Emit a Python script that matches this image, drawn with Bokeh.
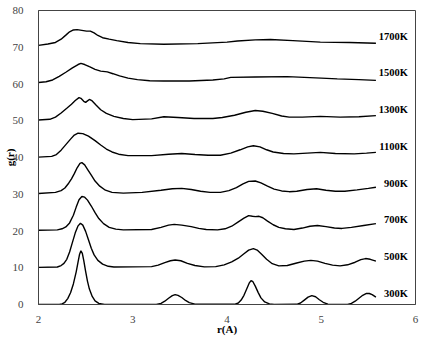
from bokeh.plotting import figure
from bokeh.models import ColumnDataSource, FixedTicker, Range1d
from bokeh.embed import file_html
from bokeh.resources import INLINE
from bokeh.core.properties import value

# Temperatures and vertical offsets of the stacked g(r) curves
temps = ["300K", "500K", "700K", "900K", "1100K", "1300K", "1500K", "1700K"]
offsets = [0, 10, 20, 30, 40, 50, 60, 70]

r_300 = [2.00, 2.22, 2.25, 2.28, 2.31, 2.34, 2.37, 2.40, 2.42, 2.435, 2.45, 2.465, 2.48, 2.50,
         2.52, 2.54, 2.57, 2.60, 2.64, 2.70,
         3.25, 3.30, 3.34, 3.38, 3.42, 3.45, 3.48, 3.52, 3.56, 3.60, 3.66,
         4.08, 4.12, 4.15, 4.18, 4.21, 4.235, 4.255, 4.275, 4.30, 4.33, 4.36, 4.40, 4.45, 4.50,
         4.74, 4.78, 4.82, 4.86, 4.90, 4.94, 4.98, 5.02, 5.07, 5.12,
         5.28, 5.32, 5.36, 5.40, 5.44, 5.48, 5.51, 5.54, 5.58]
g_300 = [0.0, 0.0, 0.15, 0.6, 1.6, 3.2, 5.6, 8.9, 11.6, 13.6, 14.6, 13.9, 12.0, 9.0,
         6.3, 4.2, 2.2, 1.0, 0.3, 0.0,
         0.0, 0.3, 0.9, 1.7, 2.4, 2.7, 2.5, 1.9, 1.1, 0.5, 0.1,
         0.05, 0.4, 1.2, 2.5, 4.3, 5.8, 6.5, 6.2, 5.0, 3.3, 1.8, 0.7, 0.15, 0.0,
         0.05, 0.4, 1.2, 2.0, 2.4, 2.1, 1.3, 0.6, 0.1, 0.0,
         0.0, 0.3, 0.9, 1.7, 2.5, 3.0, 3.0, 2.7, 2.0]

r_500 = [2.00, 2.20, 2.24, 2.27, 2.30, 2.33, 2.36, 2.39, 2.42, 2.445, 2.47, 2.50, 2.53, 2.56,
         2.59, 2.63, 2.68, 2.74, 2.80,
         3.20, 3.27, 3.34, 3.40, 3.45, 3.51, 3.58, 3.66, 3.76, 3.88, 3.97, 4.05, 4.12, 4.18,
         4.23, 4.28, 4.32, 4.37, 4.42, 4.48, 4.55, 4.64, 4.74, 4.82, 4.89, 4.96, 5.04, 5.12,
         5.20, 5.28, 5.36, 5.42, 5.47, 5.52, 5.58]
g_500 = [0.1, 0.2, 0.6, 1.2, 2.3, 4.3, 6.9, 9.5, 11.4, 12.1, 11.6, 9.9, 7.6, 5.3,
         3.5, 2.0, 1.0, 0.4, 0.2,
         0.3, 0.7, 1.4, 1.9, 2.1, 1.9, 1.2, 0.6, 0.25, 0.3, 0.8, 1.6, 2.6, 3.8,
         4.8, 5.2, 4.8, 3.6, 2.3, 1.1, 0.5, 0.6, 1.3, 1.8, 2.0, 1.8, 1.2, 0.7,
         0.5, 0.8, 1.5, 2.2, 2.5, 2.3, 1.8]

r_700 = [2.00, 2.20, 2.25, 2.29, 2.33, 2.37, 2.40, 2.43, 2.46, 2.49, 2.52, 2.56, 2.60, 2.64,
         2.69, 2.75, 2.82, 2.90,
         3.20, 3.30, 3.38, 3.44, 3.52, 3.62, 3.70, 3.78, 3.90, 3.98, 4.05, 4.12, 4.18, 4.23,
         4.27, 4.30, 4.34, 4.38, 4.43, 4.49, 4.55, 4.62, 4.71, 4.80, 4.88, 4.96, 5.05, 5.14,
         5.22, 5.32, 5.45, 5.58]
g_700 = [0.2, 0.3, 0.6, 1.1, 2.2, 4.3, 6.5, 8.5, 9.4, 9.2, 8.4, 6.8, 5.0, 3.4,
         2.0, 1.0, 0.5, 0.3,
         0.4, 1.0, 1.6, 1.8, 1.6, 1.2, 0.7, 0.4, 0.3, 0.6, 1.3, 2.5, 3.5, 4.2,
         4.0, 3.9, 4.0, 3.6, 2.7, 1.7, 1.0, 0.6, 0.4, 0.8, 1.3, 1.5, 1.2, 0.8,
         0.7, 1.0, 1.5, 2.0]

r_900 = [2.00, 2.18, 2.24, 2.28, 2.32, 2.35, 2.38, 2.41, 2.44, 2.46, 2.49, 2.52, 2.56, 2.60,
         2.65, 2.71, 2.78, 2.90,
         3.10, 3.30, 3.42, 3.52, 3.62, 3.72, 3.82, 3.93, 4.02, 4.10, 4.17, 4.23, 4.30, 4.36,
         4.43, 4.50, 4.58, 4.66, 4.74, 4.85, 4.95, 5.05, 5.15, 5.25, 5.38, 5.50, 5.58]
g_900 = [0.2, 0.5, 1.0, 1.7, 3.0, 4.2, 5.6, 7.2, 8.4, 8.6, 8.0, 6.8, 5.2, 3.6,
         2.2, 1.1, 0.5, 0.3,
         0.5, 1.1, 1.5, 1.6, 1.3, 0.8, 0.5, 0.5, 1.0, 1.8, 2.8, 3.5, 3.6, 3.1,
         2.2, 1.4, 0.9, 0.7, 0.8, 1.3, 1.5, 1.1, 0.8, 0.8, 1.2, 1.6, 1.9]

r_1100 = [2.00, 2.14, 2.19, 2.24, 2.29, 2.34, 2.38, 2.42, 2.47, 2.53, 2.60, 2.66, 2.72, 2.78,
          2.85, 2.95,
          3.20, 3.38, 3.52, 3.66, 3.80, 3.93, 4.04, 4.14, 4.22, 4.28, 4.35, 4.42, 4.49, 4.60,
          4.71, 4.85, 4.99, 5.15, 5.35, 5.48, 5.58]
g_1100 = [0.1, 0.3, 0.8, 2.0, 3.5, 5.0, 6.1, 6.6, 6.5, 5.8, 4.6, 3.4, 2.3, 1.5,
          0.9, 0.5,
          0.5, 0.9, 1.1, 0.8, 0.6, 0.6, 1.2, 2.1, 2.9, 3.2, 2.9, 2.1, 1.5, 1.1,
          1.0, 1.2, 1.4, 1.1, 1.0, 1.2, 1.4]

r_1300 = [2.00, 2.12, 2.18, 2.24, 2.30, 2.35, 2.39, 2.43, 2.45, 2.48, 2.50, 2.52, 2.54, 2.57,
          2.61, 2.66, 2.72, 2.80, 2.90, 3.00,
          3.20, 3.33, 3.48, 3.65, 3.85, 3.95, 4.08, 4.20, 4.30, 4.38, 4.48, 4.58, 4.66, 4.80,
          4.99, 5.20, 5.40, 5.58]
g_1300 = [0.2, 0.4, 1.0, 2.1, 3.4, 4.5, 5.5, 6.3, 6.1, 5.3, 5.0, 5.4, 5.8, 5.4,
          4.3, 3.0, 2.0, 1.2, 0.6, 0.3,
          0.5, 1.1, 0.9, 0.6, 0.6, 0.9, 1.5, 2.3, 2.8, 2.6, 2.0, 1.3, 1.0, 1.0,
          1.2, 1.0, 1.1, 1.4]

r_1500 = [2.00, 2.08, 2.15, 2.22, 2.29, 2.36, 2.42, 2.45, 2.49, 2.54, 2.60, 2.66, 2.73, 2.79,
          2.86, 2.95, 3.05, 3.18, 3.33, 3.60, 3.85, 3.97, 4.04, 4.30, 4.64, 5.00, 5.17, 5.40,
          5.58]
g_1500 = [0.4, 0.6, 1.1, 2.1, 3.2, 4.4, 5.3, 5.6, 5.3, 4.7, 4.0, 3.5, 3.3, 2.8,
          2.2, 1.6, 1.2, 0.9, 0.8, 0.8, 1.1, 1.4, 1.8, 1.9, 2.0, 1.6, 1.4, 1.2,
          1.0]

r_1700 = [2.00, 2.10, 2.18, 2.24, 2.29, 2.33, 2.37, 2.41, 2.46, 2.51, 2.55, 2.59, 2.63, 2.68,
          2.75, 2.83, 2.95, 3.08, 3.33, 3.69, 4.00, 4.11, 4.30, 4.46, 4.70, 4.99, 5.30, 5.58]
g_1700 = [0.5, 0.9, 1.3, 2.2, 3.3, 4.2, 4.7, 4.8, 4.6, 4.4, 4.4, 3.9, 3.2, 2.6,
          2.2, 1.8, 1.3, 1.0, 0.8, 1.0, 1.4, 1.7, 2.0, 2.1, 1.8, 1.4, 1.3, 1.1]

curves_r = [r_300, r_500, r_700, r_900, r_1100, r_1300, r_1500, r_1700]
curves_g = [g_300, g_500, g_700, g_900, g_1100, g_1300, g_1500, g_1700]

x_ticks = [2, 3, 4, 5, 6]
y_ticks = [0, 10, 20, 30, 40, 50, 60, 70, 80]

SERIF = "Liberation Serif"

p = figure(width=423, height=338, x_range=Range1d(2, 6), y_range=Range1d(0, 80),
           output_backend="svg", toolbar_location=None,
           min_border_left=38, min_border_top=10, min_border_right=8, min_border_bottom=34,
           x_axis_label="r(A)", y_axis_label="g(r)")

for rr, gg, off in zip(curves_r, curves_g, offsets):
    p.line(rr, [g + off for g in gg], line_color="black", line_width=1.4)

lab_src = ColumnDataSource(dict(
    x=[5.92] * len(temps),
    y=[off + 3 for off in offsets],
    t=temps,
))
p.text(x="x", y="y", text="t", source=lab_src, text_align="right", text_baseline="middle",
       text_font=value(SERIF), text_font_size="10.5px", text_font_style="bold",
       text_color="black")

p.xgrid.visible = False
p.ygrid.visible = False
p.xaxis.ticker = FixedTicker(ticks=x_ticks)
p.yaxis.ticker = FixedTicker(ticks=y_ticks)

for ax in (p.xaxis[0], p.yaxis[0]):
    ax.major_tick_line_color = None
    ax.minor_tick_line_color = None
    ax.axis_line_color = "#444444"
    ax.major_label_text_font = SERIF
    ax.major_label_text_font_size = "11px"
    ax.major_label_text_color = "#444444"
    ax.axis_label_text_font = SERIF
    ax.axis_label_text_font_size = "11px"
    ax.axis_label_text_font_style = "bold"
    ax.axis_label_text_color = "black"

p.xaxis.major_label_standoff = 5
p.xaxis.axis_label_standoff = -3
p.yaxis.major_label_standoff = 9
p.yaxis.axis_label_standoff = -6

p.outline_line_color = "#444444"
p.outline_line_width = 1

open("out.html", "w").write(file_html(p, INLINE))
